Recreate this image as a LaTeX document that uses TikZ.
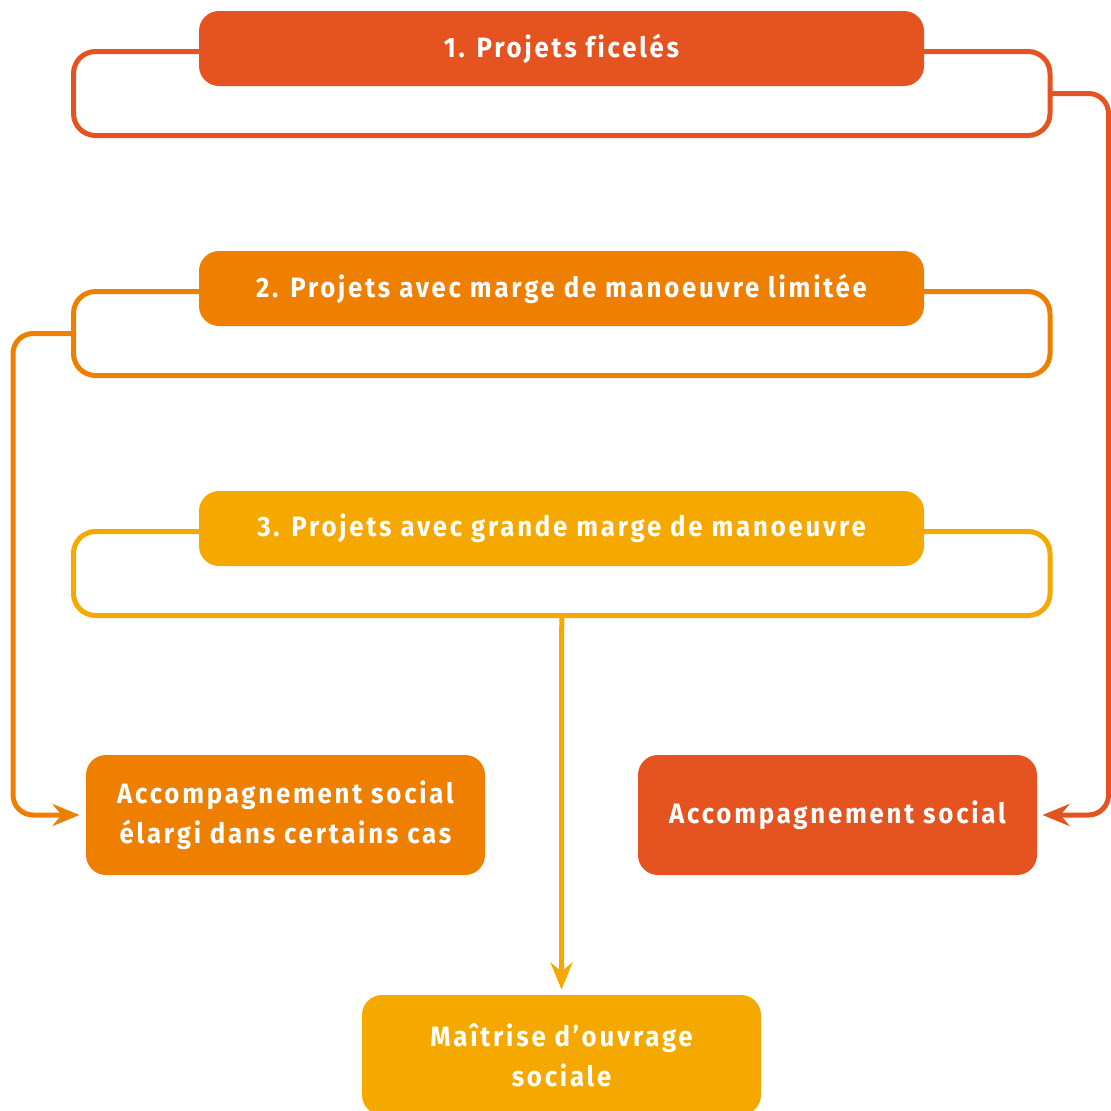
\documentclass[tikz,border=0pt]{standalone}
\usepackage{fontspec}
\newfontfamily\boxfont{Fira Sans}[FakeStretch=0.92,LetterSpace=10,Ligatures=NoCommon]
\usepackage{tikz}
\usetikzlibrary{arrows.meta}

\definecolor{rougeP}{HTML}{E55320}
\definecolor{orangeP}{HTML}{EF7F00}
\definecolor{jauneP}{HTML}{F4A800}

\begin{document}
\begin{tikzpicture}[x=1pt,y=-1pt,>={Stealth[length=27pt,width=22pt,inset=9pt]},
  shorten >=3pt,line width=5pt,
  head node/.style={rounded corners=20pt,minimum width=725pt,minimum height=75pt,
    inner sep=0pt,text=white,font=\boxfont\fontsize{28}{38}\selectfont\bfseries},
  frame node/.style={draw,rounded corners=22pt,minimum width=976.5pt,minimum height=84pt,
    inner sep=0pt,outer sep=0pt},
  box node/.style={rounded corners=20pt,minimum width=399pt,minimum height=120pt,
    inner sep=0pt,text=white,align=center,font=\boxfont\fontsize{28}{40}\selectfont\bfseries}]

  \useasboundingbox (0,0) rectangle (1111,1111);

  % les trois types de projets
  \node[frame node, draw=rougeP] (f1) at (561.75,93.5) {};
  \node[head node, fill=rougeP] (p1) at (561.5,48.5) {1. Projets ficelés};
  \node[frame node, draw=orangeP] (f2) at (561.75,333.5) {};
  \node[head node, fill=orangeP] (p2) at (561.5,288.5) {2. Projets avec marge de manoeuvre limitée};
  \node[frame node, draw=jauneP] (f3) at (561.75,573.5) {};
  \node[head node, fill=jauneP] (p3) at (561.5,528.5) {3. Projets avec grande marge de manoeuvre};

  % les accompagnements
  \node[box node, fill=orangeP] (ase) at (285.5,815) {Accompagnement social\\élargi dans certains cas};
  \node[box node, fill=rougeP] (as) at (837.5,815) {Accompagnement social};
  \node[box node, fill=jauneP] (mos) at (561.5,1055) {Maîtrise d’ouvrage\\sociale};

  \draw[->, draw=rougeP, rounded corners=20pt] (f1.east) -- ++(58.5,0) |- (as.east);
  \draw[->, draw=orangeP, rounded corners=20pt, shorten >=4pt] (f2.west) -- ++(-60.5,0) |- (ase.west);
  \draw[->, draw=jauneP] (f3.south) -- (mos.north);
\end{tikzpicture}
\end{document}
